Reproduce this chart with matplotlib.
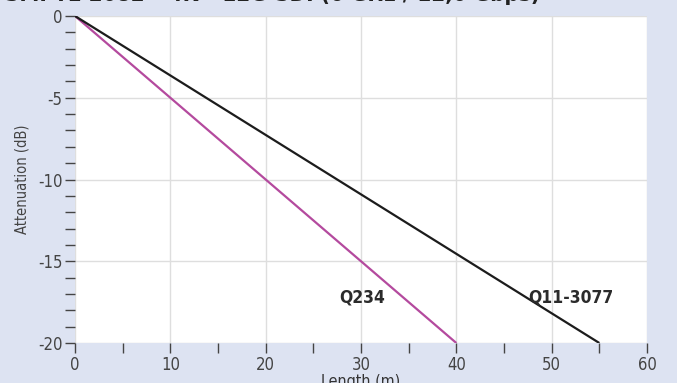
import matplotlib.pyplot as plt

# Attenuation vs cable length (straight lines from 0 dB)
q234_length = [0, 40]
q234_atten = [0, -20]
q113077_length = [0, 55]
q113077_atten = [0, -20]

labels = ['Q234', 'Q11-3077']
label_pos = [(30.1, -17.2), (52.0, -17.2)]

plt.rcParams['font.family'] = ['DejaVu Sans Condensed', 'Liberation Sans Narrow', 'DejaVu Sans']
plt.rcParams['font.stretch'] = 'condensed'

bg = '#dde3f2'
fig = plt.figure(figsize=(6.77, 3.83), dpi=100, facecolor=bg)
ax = fig.add_axes([0.1108, 0.1044, 0.8449, 0.8538])
ax.set_facecolor('white')

ax.plot(q234_length, q234_atten, color='#b44a9e', linewidth=1.6, solid_capstyle='butt')
ax.plot(q113077_length, q113077_atten, color='#1c1c1c', linewidth=1.6, solid_capstyle='butt')

for text, (x, y) in zip(labels, label_pos):
    ax.text(x, y, text, ha='center', va='center', fontsize=12.5,
            fontweight='bold', color='#2b2b2b')

ax.set_xlim(0, 60)
ax.set_ylim(-20, 0)
ax.set_xticks(range(0, 61, 10))
ax.set_xticks(range(0, 61, 5), minor=True)
ax.set_yticks(range(-20, 1, 5))
ax.set_yticklabels(['-20', '-15', '-10', '-5', '0'])
ax.set_yticks(range(-20, 1, 1), minor=True)

for s in ax.spines.values():
    s.set_visible(False)

ax.grid(True, which='major', color='#dedede', linewidth=1)
ax.tick_params(which='both', direction='out', color='#444444', width=1)
ax.tick_params(which='major', length=7, labelsize=12, labelcolor='#444444', pad=2)
ax.tick_params(which='minor', length=7)

ax.set_xlabel('Length (m)', fontsize=11.5, color='#333333', labelpad=0)
ax.set_ylabel('Attenuation (dB)', fontsize=10.5, color='#444444', labelpad=6)

fig.text(0.008, 1.012, 'SMPTE 2082 \u2013 4K \u2013 12G-SDI (6 GHz / 12,0 Gbps)',
         ha='left', va='center', fontsize=16, fontweight='bold', color='#222222')

fig.savefig('out.png', dpi=100, facecolor=bg)
